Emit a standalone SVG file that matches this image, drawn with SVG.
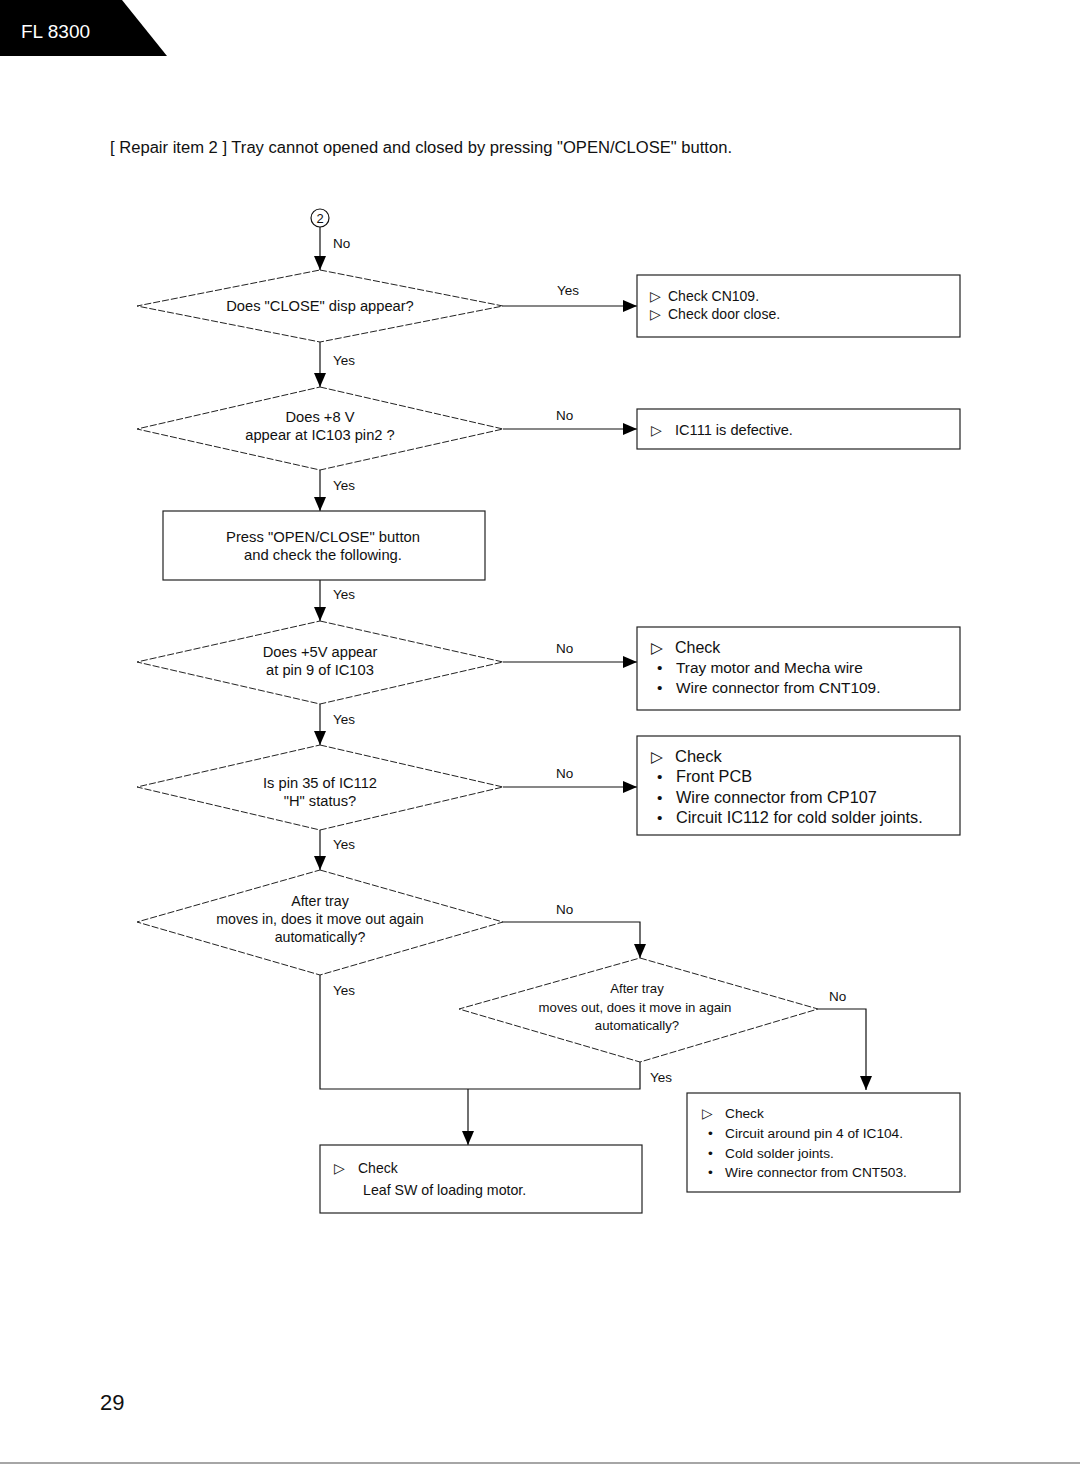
<svg xmlns="http://www.w3.org/2000/svg" width="1080" height="1468" viewBox="0 0 1080 1468">
<defs>
<marker id="arr" viewBox="0 0 14 12" refX="14" refY="6" markerWidth="14" markerHeight="12" markerUnits="userSpaceOnUse" orient="auto">
<path d="M0,0 L14,6 L0,12 z" fill="#000"/>
</marker>
</defs>
<style>
text{font-family:"Liberation Sans",Arial,sans-serif;fill:#111}
.dia{fill:none;stroke:#222;stroke-width:1;stroke-dasharray:7 2}
.box{fill:#fff;stroke:#222;stroke-width:1.2}
.c{stroke:#111;stroke-width:1.2;fill:none}
.ca{stroke:#111;stroke-width:1.2;fill:none;marker-end:url(#arr)}
.q{font-size:14.7px;text-anchor:middle}
.lbl{font-size:13.5px}
.t14{font-size:14px}
.t15{font-size:15.4px}
.t16{font-size:16.3px}
.t13{font-size:13.7px}
.tri{font-family:"DejaVu Sans",sans-serif}
</style>
<rect width="1080" height="1468" fill="#fff"/>
<g id="header">
<polygon points="0,0 122,0 167,56 0,56" fill="#000"/>
<text x="21" y="38" style="font-size:19px;fill:#fff">FL 8300</text>
</g>
<text id="title" x="110" y="153" style="font-size:16px" textLength="622" lengthAdjust="spacingAndGlyphs">[ Repair item 2 ] Tray cannot opened and closed by pressing "OPEN/CLOSE" button.</text>
<g id="connector-2">
<circle cx="320" cy="218" r="9" fill="none" stroke="#111" stroke-width="1.2"/>
<text x="320" y="223" style="font-size:13px;text-anchor:middle">2</text>
</g>
<g id="connectors">
<line class="ca" x1="320" y1="227" x2="320" y2="270"/>
<line class="ca" x1="503" y1="306" x2="637" y2="306"/>
<line class="ca" x1="320" y1="342" x2="320" y2="387"/>
<line class="ca" x1="503" y1="429" x2="637" y2="429"/>
<line class="ca" x1="320" y1="470" x2="320" y2="511"/>
<line class="ca" x1="320" y1="580" x2="320" y2="621"/>
<line class="ca" x1="503" y1="662" x2="637" y2="662"/>
<line class="ca" x1="320" y1="704" x2="320" y2="745"/>
<line class="ca" x1="503" y1="787" x2="637" y2="787"/>
<line class="ca" x1="320" y1="830" x2="320" y2="870"/>
<polyline class="ca" points="503,922 640,922 640,958"/>
<polyline class="ca" points="818,1009 866,1009 866,1090"/>
<polyline class="c" points="320,975 320,1089 640,1089 640,1062"/>
<line class="ca" x1="468" y1="1089" x2="468" y2="1145"/>
<text class="lbl" x="557" y="295">Yes</text>
<text class="lbl" x="333" y="248">No</text>
<text class="lbl" x="333" y="365">Yes</text>
<text class="lbl" x="556" y="420">No</text>
<text class="lbl" x="333" y="490">Yes</text>
<text class="lbl" x="333" y="599">Yes</text>
<text class="lbl" x="556" y="653">No</text>
<text class="lbl" x="333" y="724">Yes</text>
<text class="lbl" x="556" y="778">No</text>
<text class="lbl" x="333" y="849">Yes</text>
<text class="lbl" x="556" y="914">No</text>
<text class="lbl" x="333" y="995">Yes</text>
<text class="lbl" x="829" y="1001">No</text>
<text class="lbl" x="650" y="1082">Yes</text>
</g>
<g id="d1">
<polygon class="dia" points="320,270 503,306 320,342 137,306"/>
<text class="q" x="320" y="311">Does "CLOSE" disp appear?</text>
</g>
<g id="b1">
<rect class="box" x="637" y="275" width="323" height="62"/>
<text class="t14 tri" x="650" y="301">▷</text>
<text class="t14" x="668" y="301">Check CN109.</text>
<text class="t14 tri" x="650" y="319">▷</text>
<text class="t14" x="668" y="319">Check door close.</text>
</g>
<g id="d2">
<polygon class="dia" points="320,387 503,429 320,470 137,429"/>
<text class="q" x="320" y="422">Does +8 V</text>
<text class="q" x="320" y="440">appear at IC103 pin2 ?</text>
</g>
<g id="b2">
<rect class="box" x="637" y="409" width="323" height="40"/>
<text class="t14 tri" x="651" y="435">▷</text>
<text x="675" y="435" style="font-size:14.6px">IC111 is defective.</text>
</g>
<g id="b3">
<rect class="box" x="163" y="511" width="322" height="69"/>
<text x="323" y="542" style="font-size:14.8px;text-anchor:middle">Press "OPEN/CLOSE" button</text>
<text x="323" y="560" style="font-size:14.8px;text-anchor:middle">and check the following.</text>
</g>
<g id="d3">
<polygon class="dia" points="320,621 503,662 320,704 137,662"/>
<text class="q" x="320" y="657">Does +5V appear</text>
<text class="q" x="320" y="675">at pin 9 of IC103</text>
</g>
<g id="b4">
<rect class="box" x="637" y="627" width="323" height="83"/>
<text class="t15 tri" x="651" y="653">▷</text>
<text x="675" y="653" style="font-size:16px">Check</text>
<text class="t15" x="657" y="673">•</text>
<text class="t15" x="676" y="673">Tray motor and Mecha wire</text>
<text class="t15" x="657" y="693">•</text>
<text class="t15" x="676" y="693">Wire connector from CNT109.</text>
</g>
<g id="d4">
<polygon class="dia" points="320,745 503,787 320,830 137,787"/>
<text class="q" x="320" y="788">Is pin 35 of IC112</text>
<text class="q" x="320" y="806">"H" status?</text>
</g>
<g id="b5">
<rect class="box" x="637" y="736" width="323" height="99"/>
<text class="t15 tri" x="651" y="762">▷</text>
<text x="675" y="762" style="font-size:16.5px">Check</text>
<text class="t15" x="657" y="782">•</text>
<text class="t16" x="676" y="782">Front PCB</text>
<text class="t15" x="657" y="803">•</text>
<text class="t16" x="676" y="803">Wire connector from CP107</text>
<text class="t15" x="657" y="823">•</text>
<text class="t16" x="676" y="823">Circuit IC112 for cold solder joints.</text>
</g>
<g id="d5">
<polygon class="dia" points="320,870 503,922 320,975 137,922"/>
<text x="320" y="906" style="font-size:14.2px;text-anchor:middle">After tray</text>
<text x="320" y="924" style="font-size:14.2px;text-anchor:middle">moves in, does it move out again</text>
<text x="320" y="942" style="font-size:14.2px;text-anchor:middle">automatically?</text>
</g>
<g id="d6">
<polygon class="dia" points="640,958 818,1009 640,1062 459,1009"/>
<text x="637" y="993" style="font-size:13.2px;text-anchor:middle">After tray</text>
<text x="635" y="1012" style="font-size:13.2px;text-anchor:middle">moves out, does it move in again</text>
<text x="637" y="1030" style="font-size:13.2px;text-anchor:middle">automatically?</text>
</g>
<g id="b7">
<rect class="box" x="320" y="1145" width="322" height="68"/>
<text class="t14 tri" x="334" y="1173">▷</text>
<text class="t14" x="358" y="1173">Check</text>
<text x="363" y="1195" style="font-size:14.2px">Leaf SW of loading motor.</text>
</g>
<g id="b8">
<rect class="box" x="687" y="1093" width="273" height="99"/>
<text class="t13 tri" x="702" y="1118">▷</text>
<text class="t13" x="725" y="1118">Check</text>
<text class="t13" x="708" y="1138">•</text>
<text class="t13" x="725" y="1138">Circuit around pin 4 of IC104.</text>
<text class="t13" x="708" y="1158">•</text>
<text class="t13" x="725" y="1158">Cold solder joints.</text>
<text class="t13" x="708" y="1177">•</text>
<text class="t13" x="725" y="1177">Wire connector from CNT503.</text>
</g>
<text id="page" x="100" y="1410" style="font-size:22px">29</text>
<line x1="0" y1="1463" x2="1080" y2="1463" stroke="#888" stroke-width="1.5"/>
</svg>
